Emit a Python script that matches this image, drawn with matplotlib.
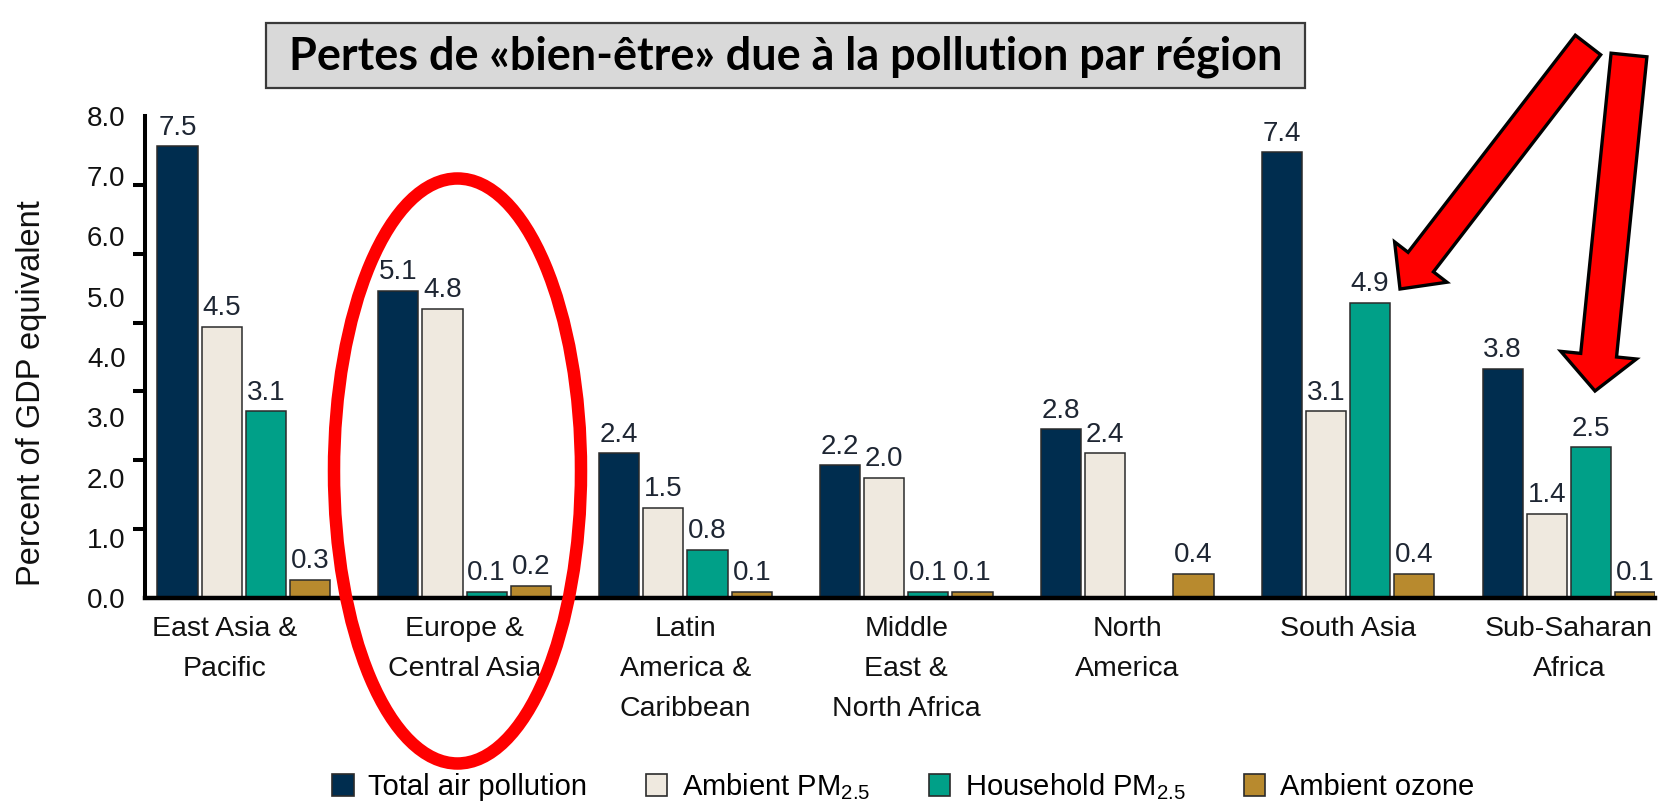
import numpy as np
import matplotlib
matplotlib.use("Agg")
import matplotlib.pyplot as plt
from matplotlib.patches import Patch, Rectangle, Ellipse, FancyArrow
from matplotlib.transforms import IdentityTransform, ScaledTranslation

plt.rcParams['font.family'] = ['Liberation Sans', 'DejaVu Sans']
plt.rcParams['mathtext.fontset'] = 'custom'
plt.rcParams['mathtext.rm'] = 'Liberation Sans'
plt.rcParams['mathtext.it'] = 'Liberation Sans:italic'

# ---------------- data ----------------
regions = ["East Asia &\nPacific", "Europe &\nCentral Asia", "Latin\nAmerica &\nCaribbean",
           "Middle\nEast &\nNorth Africa", "North\nAmerica", "South Asia", "Sub-Saharan\nAfrica"]
total_air = [7.5, 5.1, 2.4, 2.2, 2.8, 7.4, 3.8]
ambient_pm = [4.5, 4.8, 1.5, 2.0, 2.4, 3.1, 1.4]
household_pm = [3.1, 0.1, 0.8, 0.1, np.nan, 4.9, 2.5]
ambient_ozone = [0.3, 0.2, 0.1, 0.1, 0.4, 0.4, 0.1]
series_names = ["Total air pollution", "Ambient PM$_{2.5}$", "Household PM$_{2.5}$", "Ambient ozone"]
y_tick_values = [0, 1, 2, 3, 4, 5, 6, 7, 8]
title = "Pertes de «bien-être» due à la pollution par région"

colors = ["#002d4f", "#efe9df", "#00a088", "#b88a2e"]

W, H = 1671, 806
fig = plt.figure(figsize=(W / 100, H / 100), dpi=100)
ax = fig.add_axes([145 / W, 1 - 598 / H, (1655 - 145) / W, (598 - 116) / H])

x = np.arange(len(regions))
series = [total_air, ambient_pm, household_pm, ambient_ozone]
offsets = [-0.3, -0.1, 0.1, 0.3]
bw = 0.182
for vals, off, col in zip(series, offsets, colors):
    v = np.array(vals, dtype=float)
    mask = ~np.isnan(v)
    bars = ax.bar(x[mask] + off, v[mask], width=bw, color=col, edgecolor="#2b2b2b",
                  linewidth=1.1, zorder=2)
    for b, val in zip(bars, v[mask]):
        ax.annotate(f"{val:.1f}", (b.get_x() + b.get_width() / 2, b.get_height()),
                    xytext=(0, 4), textcoords="offset points", ha="center", va="bottom",
                    fontsize=20, color="#1e2633")

ax.set_xlim(-0.447, 6.39)
ax.set_ylim(0, 8)
for s in ["top", "right"]:
    ax.spines[s].set_visible(False)
ax.spines["left"].set_linewidth(2.9)
ax.spines["bottom"].set_linewidth(3.2)
ax.spines["bottom"].set_zorder(3)

ax.set_yticks(y_tick_values)
ax.set_yticklabels([f"{v:.1f}" for v in y_tick_values])
ax.tick_params(axis="y", which="major", length=0, pad=14, labelsize=20, labelcolor="#111111")
ax.set_yticks(np.linspace(0, 8, 8), minor=True)
ax.tick_params(axis="y", which="minor", length=8.6, width=2.9, color="black")

ax.set_xticks(x)
ax.set_xticklabels(regions, linespacing=1.7)
ax.tick_params(axis="x", length=0, pad=13, labelsize=20.5, labelcolor="#111111")
# first category label sits a little left of its group in the original
lbl0 = ax.get_xticklabels()[0]
lbl0.set_transform(lbl0.get_transform() + ScaledTranslation(-0.19, 0, fig.dpi_scale_trans))

ax.set_ylabel("Percent of GDP equivalent", fontsize=23.5, color="#111111")
ax.yaxis.set_label_coords(-0.065, 0.425)

# legend
handles = [Patch(facecolor=c, edgecolor="#2b2b2b", linewidth=1.2) for c in colors]
fig.legend(handles, series_names, loc="center", bbox_to_anchor=(0.5405, 0.024), ncol=4,
           frameon=False, fontsize=21, handlelength=0.74, handleheight=0.8,
           handletextpad=0.5, columnspacing=2.0, borderpad=0)

# title box
idt = IdentityTransform()
fig.patches.append(Rectangle((266, H - 88), 1305 - 266, 88 - 23, transform=idt,
                             facecolor="#d9d9d9", edgecolor="#3a3a3a", linewidth=1.6,
                             zorder=1))
t = fig.text(785.5 / W, 1 - 57 / H, title, ha="center", va="center",
             family=["Lato", "DejaVu Sans"], fontweight="bold", fontsize=28, color="black")
fig.canvas.draw()
bb = t.get_window_extent()
t.set_fontsize(28 * 994 / bb.width)

# red ellipse
fig.patches.append(Ellipse((457.5, H - 471), 247, 585, transform=idt, fill=False,
                           edgecolor="#ff0000", linewidth=9, zorder=10))

# red arrows
def block_arrow(x0, y0, x1, y1, width, head_width, head_length):
    dx, dy = x1 - x0, (H - y1) - (H - y0)
    return FancyArrow(x0, H - y0, dx, dy, width=width, head_width=head_width,
                      head_length=head_length, length_includes_head=True,
                      transform=idt, facecolor="#ff0000", edgecolor="black",
                      linewidth=2.4, zorder=11)

fig.patches.append(block_arrow(1588, 45, 1400, 289, 32, 66, 34))
fig.patches.append(block_arrow(1629, 55, 1595, 391, 36, 76, 36))

fig.savefig("out.png", dpi=100)
